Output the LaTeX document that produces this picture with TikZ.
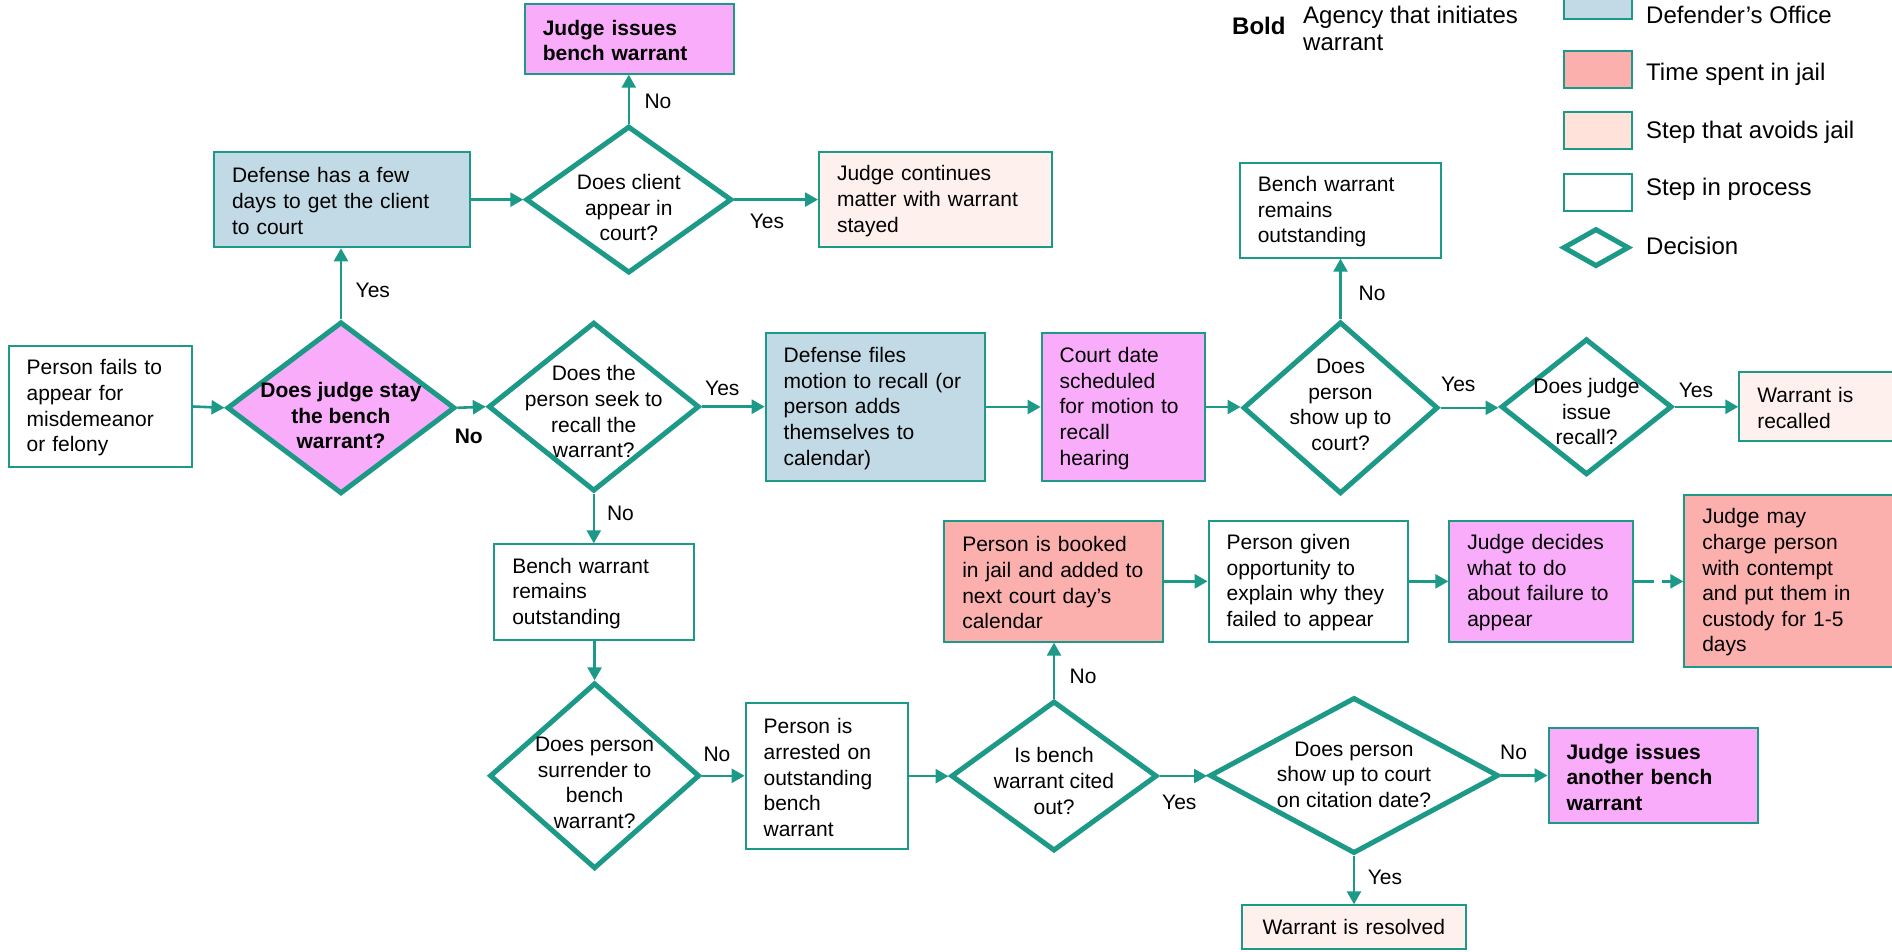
\documentclass[tikz,border=0pt]{standalone}
\usepackage{fontspec}
\setmainfont{Liberation Sans}
\usetikzlibrary{arrows.meta,shapes.geometric}
\definecolor{teal1}{RGB}{28,153,135}
\definecolor{fblue}{RGB}{194,218,230}
\definecolor{fpink}{RGB}{249,172,250}
\definecolor{fred}{RGB}{252,176,174}
\definecolor{flight}{RGB}{254,240,236}
\definecolor{flegl}{RGB}{255,226,218}
\newcommand\dfont{\fontsize{21pt}{25.6pt}\selectfont}
\newcommand\lfont{\fontsize{24pt}{26.7pt}\selectfont}
\tikzset{
  box/.style={draw=teal1, line width=2pt, inner xsep=18pt, inner ysep=0pt, align=left, font=\dfont, text height=18pt},
  dia/.style={draw=teal1, line width=5pt, diamond, inner sep=0pt, outer sep=2.5pt},
  arr/.style={draw=teal1, line width=2.6pt, -{Triangle[length=13pt,width=14pt]}},
  elbl/.style={font=\dfont, inner sep=0pt},
  dtxt/.style={font=\dfont, align=center, inner sep=0pt},
  legbox/.style={draw=teal1, line width=2pt, minimum width=68pt, minimum height=37pt, inner sep=0pt},
  legtxt/.style={font=\lfont, anchor=base west, inner sep=0pt},
}
\begin{document}
\begin{tikzpicture}[x=1pt,y=-1pt]
\useasboundingbox (0,0) rectangle (1892,952);
\clip (0,0) rectangle (1892,952);
\fill[white] (0,0) rectangle (1892,952);

% ---------- boxes ----------
\node[box, fill=fpink, font=\dfont\bfseries, minimum width=209pt, minimum height=69.4pt, text width=173pt] (bJudgeA) at (629.25,39) {Judge issues\\bench warrant};
\node[box, fill=fblue, minimum width=255.5pt, minimum height=95.3pt, text width=219.5pt] (bDef) at (341.75,199.65) {Defense has a few\\days to get the client\\to court};
\node[box, fill=flight, minimum width=232.7pt, minimum height=95.3pt, text width=196.7pt] (bCont) at (935.35,199.65) {Judge continues\\matter with warrant\\stayed};
\node[box, fill=white, minimum width=201.5pt, minimum height=95pt, text width=165.5pt] (bBenchTR) at (1340.55,210.2) {Bench warrant\\remains\\outstanding};
\node[box, fill=white, minimum width=183.3pt, minimum height=121pt, text width=147.3pt] (bFail) at (100.25,406.5) {Person fails to\\appear for\\misdemeanor\\or felony};
\node[box, fill=white, minimum width=199.7pt, minimum height=95.4pt, text width=163.7pt] (bBenchBL) at (594.15,592) {Bench warrant\\remains\\outstanding};
\node[box, fill=fblue, minimum width=219.5pt, minimum height=147.4pt, text width=183.5pt] (bFiles) at (875.45,407) {Defense files\\motion to recall (or\\person adds\\themselves to\\calendar)};
\node[box, fill=fpink, minimum width=163.2pt, minimum height=147.4pt, text width=127.2pt] (bCourt) at (1123.2,407) {Court date\\scheduled\\for motion to\\recall\\hearing};
\node[box, fill=flight, minimum width=219.7pt, minimum height=69.6pt, text width=183.7pt] (bRecalled) at (1849.15,406.5) {Warrant is\\recalled};
\node[box, fill=fred, minimum width=219pt, minimum height=120.7pt, text width=183pt] (bBooked) at (1053.8,581.35) {Person is booked\\in jail and added to\\next court day’s\\calendar};
\node[box, fill=white, minimum width=199.4pt, minimum height=120.7pt, text width=163.4pt] (bGiven) at (1308.3,581.35) {Person given\\opportunity to\\explain why they\\failed to appear};
\node[box, fill=fpink, minimum width=184pt, minimum height=120.7pt, text width=148pt] (bDecides) at (1541.3,581.35) {Judge decides\\what to do\\about failure to\\appear};
\node[box, fill=fred, minimum width=274.7pt, minimum height=172.3pt, text width=238.7pt] (bCharge) at (1821.65,581.15) {Judge may\\charge person\\with contempt\\and put them in\\custody for 1-5\\days};
\node[box, fill=white, minimum width=161.9pt, minimum height=145.7pt, text width=125.9pt] (bArrest) at (826.55,776.15) {Person is\\arrested on\\outstanding\\bench\\warrant};
\node[box, fill=fpink, font=\dfont\bfseries, minimum width=209.5pt, minimum height=95pt, text width=173.5pt] (bAnother) at (1653.25,775.8) {Judge issues\\another bench\\warrant};
\node[box, fill=flight, align=center, text height=15.5pt, minimum width=223.7pt, minimum height=43.7pt, text width=187.7pt] (bResolved) at (1353.75,927.15) {Warrant is resolved};

% ---------- decisions ----------
\node[dia, fill=fpink, minimum width=228pt, minimum height=172pt,
  label={[dtxt, font=\dfont\bfseries, yshift=-8pt]center:{Does judge stay\\the bench\\warrant?}}] (dStay) at (341,407.8) {};
\node[dia, fill=white, minimum width=206pt, minimum height=147pt,
  label={[dtxt, yshift=-8pt]center:{Does client\\appear in\\court?}}] (dClient) at (628.8,199.6) {};
\node[dia, fill=white, minimum width=211pt, minimum height=169pt,
  label={[dtxt, yshift=-5pt]center:{Does the\\person seek to\\recall the\\warrant?}}] (dRecall) at (593.8,406.7) {};
\node[dia, fill=white, minimum width=195pt, minimum height=172pt,
  label={[dtxt, yshift=3pt]center:{Does\\person\\show up to\\court?}}] (dShow) at (1340.5,407.8) {};
\node[dia, fill=white, minimum width=171pt, minimum height=136pt,
  label={[dtxt, yshift=-5pt]center:{Does judge\\issue\\recall?}}] (dIssue) at (1586.5,406.8) {};
\node[dia, fill=white, minimum width=210pt, minimum height=186pt,
  label={[dtxt, yshift=-7pt]center:{Does person\\surrender to\\bench\\warrant?}}] (dSurr) at (594.6,775.8) {};
\node[dia, fill=white, minimum width=206pt, minimum height=150pt,
  label={[dtxt, yshift=-5pt]center:{Is bench\\warrant cited\\out?}}] (dCited) at (1054,776) {};
\node[dia, fill=white, minimum width=289pt, minimum height=156pt,
  label={[dtxt, yshift=1pt]center:{Does person\\show up to court\\on citation date?}}] (dCit) at (1354,775.5) {};

% ---------- connectors ----------
\draw[arr] (bFail.east) -- (dStay.west);
\draw[arr] (dStay.north) -- (dStay.north |- bDef.south);
\draw[arr] (bDef.east) -- (bDef.east -| dClient.west);
\draw[arr] (dClient.north) -- (dClient.north |- bJudgeA.south);
\draw[arr] (dClient.east) -- (dClient.east -| bCont.west);
\draw[arr] (dStay.east) -- (dRecall.west);
\draw[arr] (dRecall.east) -- (dRecall.east -| bFiles.west);
\draw[arr] (bFiles.east) -- (bCourt.west);
\draw[arr] (bCourt.east) -- (bCourt.east -| dShow.west);
\draw[arr] (dShow.north) -- (dShow.north |- bBenchTR.south);
\draw[arr] (dShow.east) -- (dShow.east -| dIssue.west);
\draw[arr] (dIssue.east) -- (dIssue.east -| bRecalled.west);
\draw[arr] (dRecall.south) -- (dRecall.south |- bBenchBL.north);
\draw[arr] (bBenchBL.south -| dSurr.north) -- (dSurr.north);
\draw[arr] (dSurr.east) -- (dSurr.east -| bArrest.west);
\draw[arr] (bArrest.east) -- (bArrest.east -| dCited.west);
\draw[arr] (dCited.north) -- (dCited.north |- bBooked.south);
\draw[arr] (bBooked.east) -- (bGiven.west);
\draw[arr] (bGiven.east) -- (bDecides.west);
\draw[arr, dash pattern=on 20pt off 8pt] (bDecides.east) -- (bDecides.east -| bCharge.west);
\draw[arr] (dCited.east) -- (dCited.east -| dCit.west);
\draw[arr] (dCit.east) -- (dCit.east -| bAnother.west);
\draw[arr] (dCit.south) -- (dCit.south |- bResolved.north);

% ---------- connector labels ----------
\node[elbl] (lNoA) at (658,101.7) {No};
\node[elbl] (lYesA) at (372.8,290) {Yes};
\node[elbl] (lYesB) at (767,221) {Yes};
\node[elbl, font=\dfont\bfseries] (lNoB) at (468.8,436.7) {No};
\node[elbl] (lYesC) at (722.3,388.3) {Yes};
\node[elbl] (lNoC) at (620.5,513.3) {No};
\node[elbl] (lNoD) at (1372,293) {No};
\node[elbl] (lYesD) at (1458.3,384) {Yes};
\node[elbl] (lYesE) at (1696,390) {Yes};
\node[elbl] (lNoE) at (717,754) {No};
\node[elbl] (lNoF) at (1083,676) {No};
\node[elbl] (lYesF) at (1179.3,802.3) {Yes};
\node[elbl] (lNoG) at (1513.5,752.7) {No};
\node[elbl] (lYesG) at (1385,877.7) {Yes};

% ---------- legend ----------
\node[legtxt, font=\lfont\bfseries] (kBold) at (1232,35) {Bold};
\node[legtxt, align=left] (kAgency) at (1303,50.7) {Agency that initiates\\warrant};
\node[legbox, fill=fblue, minimum height=39pt] (kBlue) at (1598.3,0) {};
\node[legbox, fill=fred] (kRed) at (1598.3,69.5) {};
\node[legbox, fill=flegl] (kLight) at (1598.3,131) {};
\node[legbox, fill=white] (kWhite) at (1598.3,192.2) {};
\node[dia, fill=white, minimum width=66pt, minimum height=38pt] (kDia) at (1596,247.6) {};
\node[legtxt] (kT1) at (1646,24) {Defender’s Office};
\node[legtxt] (kT2) at (1646,81) {Time spent in jail};
\node[legtxt] (kT3) at (1646,138.5) {Step that avoids jail};
\node[legtxt] (kT4) at (1646,195.5) {Step in process};
\node[legtxt] (kT5) at (1646,254) {Decision};
\end{tikzpicture}
\end{document}
